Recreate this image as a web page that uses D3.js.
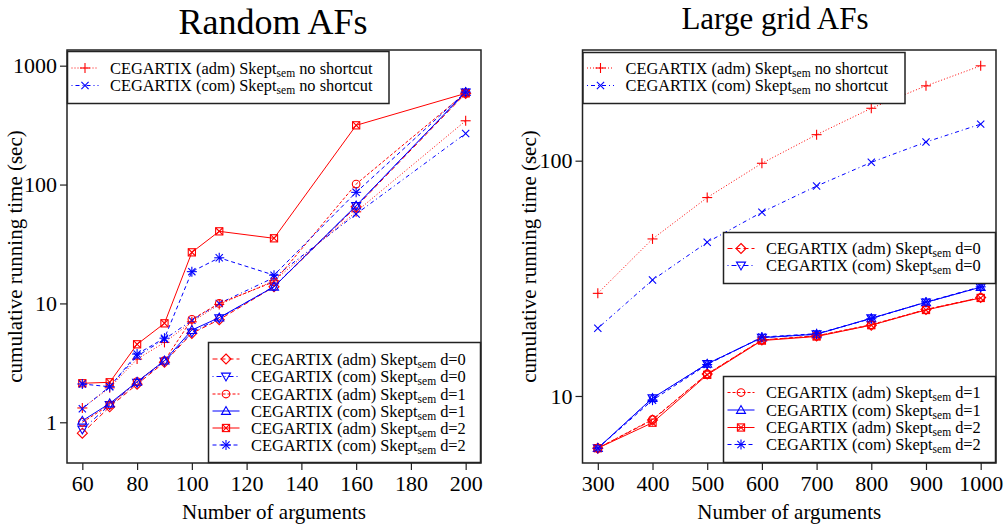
<!DOCTYPE html>
<html>
<head>
<meta charset="utf-8">
<script src="https://cdn.jsdelivr.net/npm/d3@7"></script>
<style>
  body { margin: 0; background: #fff; }
  text { font-family: "Liberation Serif", "DejaVu Serif", serif; fill: #000; }
</style>
</head>
<body>
<div id="chart"></div>
<script>
// ---- data ----
const leftX = [60, 70, 80, 90, 100, 110, 130, 160, 200]
const leftAdmNo = [1.32, 1.95, 3.4, 4.7, 7.0, 9.8, 15.5, 59, 344]
const leftComNo = [1.3, 2.0, 3.6, 5.0, 7.2, 10.0, 16.5, 56.5, 269]
const leftAdmD0 = [0.81, 1.35, 2.09, 3.2, 5.6, 7.3, 13.8, 65, 585]
const leftComD0 = [0.87, 1.4, 2.15, 3.25, 5.7, 7.5, 13.9, 66, 596]
const leftAdmD1 = [1.0, 1.4, 2.2, 3.3, 7.35, 10.0, 15.2, 101, 590]
const leftComD1 = [1.03, 1.44, 2.19, 3.3, 5.97, 7.6, 13.8, 66.4, 600]
const leftAdmD2 = [2.13, 2.17, 4.53, 6.8, 26.9, 40.4, 35.3, 315, 585]
const leftComD2 = [2.1, 1.99, 3.75, 5.1, 18.5, 24.2, 17.3, 86, 600]

const rightX = [300, 400, 500, 600, 700, 800, 900, 1000]
const rightAdmNo = [27.3, 46.5, 69.7, 97.5, 129, 167, 208, 253]
const rightComNo = [19.4, 31.1, 45, 60.4, 78, 98.4, 120, 143]
const rightAdmD0 = [6.0, 7.9, 12.4, 17.3, 18.0, 20.0, 23.3, 26.2]
const rightComD0 = [6.0, 9.78, 13.7, 17.7, 18.3, 21.4, 25.0, 29.0]
const rightAdmD1 = [6.0, 7.95, 12.4, 17.3, 18.0, 20.1, 23.3, 26.2]
const rightComD1 = [6.0, 9.8, 13.7, 17.7, 18.3, 21.4, 25.0, 29.0]
const rightAdmD2 = [6.0, 7.7, 12.3, 17.2, 17.9, 20.0, 23.2, 26.1]
const rightComD2 = [6.0, 9.6, 13.6, 17.8, 18.4, 21.3, 25.1, 29.1]

const leftXTicks = [60, 80, 100, 120, 140, 160, 180, 200]
const leftYTicks = [1, 10, 100, 1000]
const rightXTicks = [300, 400, 500, 600, 700, 800, 900, 1000]
const rightYTicks = [10, 100]

const seriesNames = ["no shortcut", "no shortcut", "d=0", "d=0", "d=1", "d=1", "d=2", "d=2"]
const seriesSolver = ["adm", "com", "adm", "com", "adm", "com", "adm", "com"]

// ---- styles ----
const RED = "#ff0000", BLUE = "#0000ff"
const styles = [
  {color: RED, dash: "1,2", mark: "plus"},
  {color: BLUE, dash: "1,3,4,3", mark: "cross"},
  {color: RED, dash: "5,3", mark: "diamond"},
  {color: BLUE, dash: "1,3,5,3", mark: "triDown"},
  {color: RED, dash: "3,2", mark: "circle"},
  {color: BLUE, dash: null, mark: "triUp"},
  {color: RED, dash: null, mark: "squareX"},
  {color: BLUE, dash: "4,3", mark: "star"}
]

const W = 1004, H = 527
const svg = d3.select("#chart").append("svg")
    .attr("width", W).attr("height", H)
    .attr("viewBox", "0 0 " + W + " " + H)

function marker(g, type, x, y, color)
{
  const s = 4.5
  const m = g.append("g").attr("transform", "translate(" + x + "," + y + ")")
      .attr("stroke", color).attr("stroke-width", 1.1).attr("fill", "none")
  if (type == "plus" || type == "star") {
    m.append("line").attr("x1", -s - 0.5).attr("x2", s + 0.5).attr("y1", 0).attr("y2", 0)
    m.append("line").attr("x1", 0).attr("x2", 0).attr("y1", -s - 0.5).attr("y2", s + 0.5)
  }
  if (type == "cross" || type == "star") {
    const c = s * 0.8
    m.append("line").attr("x1", -c).attr("x2", c).attr("y1", -c).attr("y2", c)
    m.append("line").attr("x1", -c).attr("x2", c).attr("y1", c).attr("y2", -c)
  }
  if (type == "diamond")
    m.append("polygon").attr("points", [[0, -s - 0.5], [s + 0.5, 0], [0, s + 0.5], [-s - 0.5, 0]].join(" "))
  if (type == "triDown")
    m.append("polygon").attr("points", [[-s, -s * 0.75], [s, -s * 0.75], [0, s]].join(" "))
  if (type == "triUp")
    m.append("polygon").attr("points", [[-s, s * 0.75], [s, s * 0.75], [0, -s]].join(" "))
  if (type == "circle")
    m.append("circle").attr("r", s * 0.85)
  if (type == "squareX") {
    const c = s * 0.8
    m.append("rect").attr("x", -c).attr("y", -c).attr("width", 2 * c).attr("height", 2 * c)
    m.append("line").attr("x1", -c).attr("x2", c).attr("y1", -c).attr("y2", c)
    m.append("line").attr("x1", -c).attr("x2", c).attr("y1", c).attr("y2", -c)
  }
}

function panel(cfg)
{
  const x = d3.scaleLinear().domain(cfg.xDomain).range([cfg.left, cfg.right])
  const y = d3.scaleLog().domain(cfg.yDomain).range([cfg.bottom, cfg.top])
  const g = svg.append("g")

  // series
  cfg.series.forEach((vals, i) => {
    const st = styles[i]
    const pts = vals.map((v, j) => [x(cfg.xs[j]), y(v)])
    g.append("path")
        .attr("d", d3.line()(pts))
        .attr("fill", "none")
        .attr("stroke", st.color)
        .attr("stroke-width", 1)
        .attr("stroke-dasharray", st.dash)
    pts.forEach(p => marker(g, st.mark, p[0], p[1], st.color))
  })

  // axes
  const xAxis = g.append("g").attr("transform", "translate(0," + cfg.bottom + ")")
      .call(d3.axisBottom(x).tickValues(cfg.xTicks).tickSize(7).tickPadding(5).tickFormat(d3.format("d")))
  const yAxis = g.append("g").attr("transform", "translate(" + cfg.left + ",0)")
      .call(d3.axisLeft(y).tickValues(cfg.yTicks).tickSize(7).tickPadding(3).tickFormat(d3.format("d")))
  ;[xAxis, yAxis].forEach(a => {
    a.select(".domain").remove()
    a.selectAll("line").attr("stroke", "#222").attr("stroke-width", 1.2)
    a.selectAll("text").attr("font-size", 22).attr("font-family", "Liberation Serif").attr("fill", "#000")
  })

  g.append("rect")
      .attr("x", cfg.left).attr("y", cfg.top)
      .attr("width", cfg.right - cfg.left).attr("height", cfg.bottom - cfg.top)
      .attr("fill", "none").attr("stroke", "#222").attr("stroke-width", 1.5)

  // labels
  g.append("text").attr("x", cfg.titleX).attr("y", cfg.titleY)
      .attr("text-anchor", "middle").attr("font-size", cfg.titleSize).text(cfg.title)
  g.append("text").attr("x", (cfg.left + cfg.right) / 2).attr("y", 519)
      .attr("text-anchor", "middle").attr("font-size", 21).text("Number of arguments")
  g.append("text")
      .attr("transform", "translate(" + cfg.yLabelX + "," + ((cfg.top + cfg.bottom) / 2) + ") rotate(-90)")
      .attr("text-anchor", "middle").attr("font-size", 21).text("cumulative running time (sec)")

  // legends
  cfg.legends.forEach(lg => {
    const lgG = g.append("g")
    lgG.append("rect").attr("x", lg.x0).attr("y", lg.y0)
        .attr("width", lg.x1 - lg.x0).attr("height", lg.y1 - lg.y0)
        .attr("fill", "#fff").attr("stroke", "#222").attr("stroke-width", 1.5)
    lg.items.forEach((si, k) => {
      const st = styles[si]
      const cy = lg.rows[k]
      lgG.append("line").attr("x1", lg.x0 + 4).attr("x2", lg.x0 + 31)
          .attr("y1", cy).attr("y2", cy)
          .attr("stroke", st.color).attr("stroke-width", 1).attr("stroke-dasharray", st.dash)
      marker(lgG, st.mark, lg.x0 + 17.5, cy, st.color)
      const t = lgG.append("text").attr("x", lg.x0 + 42.5).attr("y", cy + 5.5).attr("font-size", 16.4)
      t.append("tspan").text("CEGARTIX (" + seriesSolver[si] + ") Skept")
      t.append("tspan").attr("font-size", 11.5).attr("dy", 3).text("sem")
      t.append("tspan").attr("dy", -3).text(" " + seriesNames[si])
    })
  })
}

panel({
  xs: leftX,
  series: [leftAdmNo, leftComNo, leftAdmD0, leftComD0, leftAdmD1, leftComD1, leftAdmD2, leftComD2],
  xDomain: [54.4, 205.6], yDomain: [0.4545, 1355],
  left: 67, right: 481, top: 50, bottom: 463,
  xTicks: leftXTicks, yTicks: leftYTicks,
  title: "Random AFs", titleX: 273, titleY: 34, titleSize: 36, yLabelX: 22,
  legends: [
    {x0: 67.5, x1: 389, y0: 51.5, y1: 103.5, rows: [68, 85.5], items: [0, 1]},
    {x0: 208.5, x1: 480.5, y0: 342.5, y1: 462.5, rows: [359, 376.5, 394, 411, 428, 445], items: [2, 3, 4, 5, 6, 7]}
  ]
})

panel({
  xs: rightX,
  series: [rightAdmNo, rightComNo, rightAdmD0, rightComD0, rightAdmD1, rightComD1, rightAdmD2, rightComD2],
  xDomain: [272, 1028], yDomain: [5.19, 295.4],
  left: 582.5, right: 996, top: 50, bottom: 463,
  xTicks: rightXTicks, yTicks: rightYTicks,
  title: "Large grid AFs", titleX: 775, titleY: 29, titleSize: 31, yLabelX: 536,
  legends: [
    {x0: 583, x1: 905, y0: 52.5, y1: 103.5, rows: [68, 85.5], items: [0, 1]},
    {x0: 723.5, x1: 995.5, y0: 232.5, y1: 283.5, rows: [248.5, 265.5], items: [2, 3]},
    {x0: 723.5, x1: 995.5, y0: 376.5, y1: 462.5, rows: [392.5, 410, 427.5, 444.5], items: [4, 5, 6, 7]}
  ]
})
</script>
</body>
</html>
